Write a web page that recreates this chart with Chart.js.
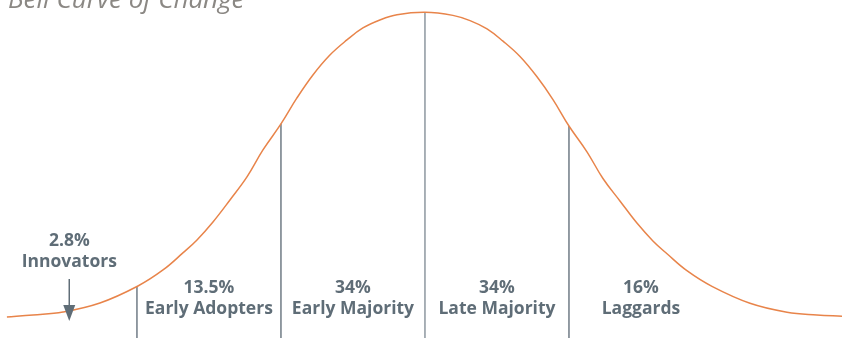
<!DOCTYPE html>
<html>
<head>
<meta charset="utf-8">
<script src="https://cdn.jsdelivr.net/npm/chart.js@4.4.0/dist/chart.umd.min.js"></script>
<style>
  html, body { margin: 0; padding: 0; background: #fff; }
  canvas { display: block; }
</style>
</head>
<body>
<canvas id="chart" width="842" height="338"></canvas>
<script>
// curve: x in standard deviations, y in % of peak height
const curveX = [-2.903, -2.722, -2.514, -2.257, -1.993, -1.819, -1.681, -1.583, -1.472, -1.354, -1.236, -1.125, -1.0, -0.889, -0.778, -0.66, -0.542, -0.431, -0.313, -0.194, 0,
  0.194, 0.313, 0.431, 0.542, 0.66, 0.778, 0.889, 1.0, 1.125, 1.236, 1.354, 1.472, 1.583, 1.681, 1.819, 1.993, 2.257, 2.514, 2.722, 2.896]
const curveY = [0.85, 1.5, 2.47, 5.4, 10.93, 16.14, 21.69, 25.91, 31.76, 38.92, 46.41, 55.2, 63.66, 72.12, 79.6, 86.1, 91.0, 94.9, 97.5, 99.2, 100,
  99.0, 97.3, 94.6, 90.6, 85.6, 79.0, 71.6, 63.0, 54.6, 45.9, 38.6, 31.4, 25.6, 21.4, 15.9, 10.8, 5.3, 2.4, 1.5, 1.1]

const dividerX = [-2, -1, 0, 1]
const dividerY = [10.9, 63.7, 100, 63.0]

const groupNames = ["Innovators", "Early Adopters", "Early Majority", "Late Majority", "Laggards"]
const groupShares = ["2.8%", "13.5%", "34%", "34%", "16%"]
const groupLabelX = [-2.47, -1.5, -0.5, 0.5, 1.5]
const groupLabelY = [22.2, 7.0, 7.0, 7.0, 7.0]

// innovators pointer: from under the label down to the curve
const arrowX = -2.47
const arrowY = [13.2, -0.5]

const chartTitle = "Bell Curve of Change"

const textColor = "#5f6d77"

const datasets = [{
  data: curveX.map((x, i) => ({ x, y: curveY[i] })),
  borderColor: "#e8844a",
  borderWidth: 1.5,
  pointRadius: 0,
  tension: 0.4,
  fill: false
}]

dividerX.forEach((x, i) => {
  datasets.push({
    data: [{ x, y: -6 }, { x, y: dividerY[i] }],
    borderColor: i === 2 ? "#8d979f" : "#6f7b85",
    borderWidth: 1.5,
    pointRadius: 0,
    tension: 0
  })
})

const labelPlugin = {
  id: "groupLabels",
  afterDatasetsDraw(chart) {
    const { ctx, scales: { x, y } } = chart
    ctx.save()

    // arrow
    const ax = x.getPixelForValue(arrowX)
    const ay0 = y.getPixelForValue(arrowY[0])
    const ay1 = y.getPixelForValue(arrowY[1])
    ctx.strokeStyle = textColor
    ctx.fillStyle = textColor
    ctx.lineWidth = 1.5
    ctx.beginPath()
    ctx.moveTo(ax, ay0)
    ctx.lineTo(ax, ay1 - 14)
    ctx.stroke()
    ctx.beginPath()
    ctx.moveTo(ax - 6, ay1 - 16)
    ctx.lineTo(ax + 6, ay1 - 16)
    ctx.lineTo(ax, ay1)
    ctx.closePath()
    ctx.fill()

    ctx.font = 'bold 17.5px "Open Sans"'
    ctx.textAlign = "center"
    ctx.textBaseline = "middle"
    groupNames.forEach((name, i) => {
      const cx = x.getPixelForValue(groupLabelX[i])
      const cy = y.getPixelForValue(groupLabelY[i])
      ctx.fillText(groupShares[i], cx, cy - 10.5)
      ctx.fillText(name, cx, cy + 10.5)
    })

    ctx.font = 'italic 26px "Open Sans"'
    ctx.fillStyle = "#8b8884"
    ctx.textAlign = "left"
    ctx.textBaseline = "alphabetic"
    ctx.fillText(chartTitle, 8, 8)
    ctx.restore()
  }
}

new Chart(document.getElementById("chart"), {
  type: "line",
  data: { datasets },
  options: {
    responsive: false,
    animation: false,
    layout: { padding: 0, autoPadding: false },
    plugins: {
      legend: { display: false },
      tooltip: { enabled: false },
      title: { display: false }
    },
    scales: {
      x: { type: "linear", min: -2.951, max: 2.896, display: false },
      y: { min: -6, max: 104, display: false }
    }
  },
  plugins: [labelPlugin]
})
</script>
</body>
</html>
